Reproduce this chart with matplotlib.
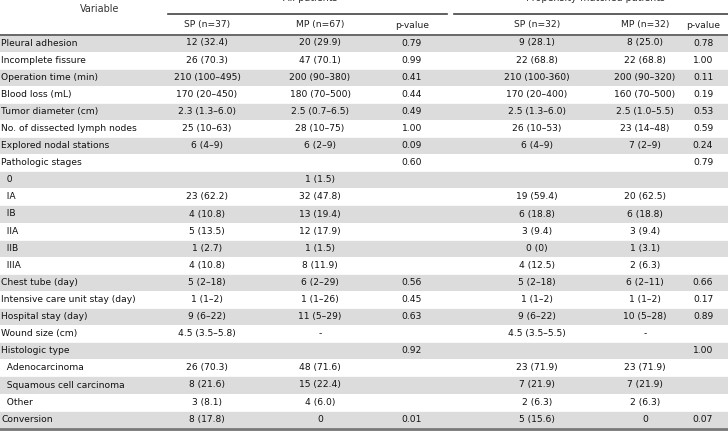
import matplotlib.pyplot as plt
from matplotlib.patches import Rectangle

variables = ['Pleural adhesion', 'Incomplete fissure', 'Operation time (min)', 'Blood loss (mL)',
             'Tumor diameter (cm)', 'No. of dissected lymph nodes', 'Explored nodal stations',
             'Pathologic stages', '  0', '  IA', '  IB', '  IIA', '  IIB', '  IIIA',
             'Chest tube (day)', 'Intensive care unit stay (day)', 'Hospital stay (day)',
             'Wound size (cm)', 'Histologic type', '  Adenocarcinoma', '  Squamous cell carcinoma',
             '  Other', 'Conversion']
sp_all = ['12 (32.4)', '26 (70.3)', '210 (100\u2013495)', '170 (20\u2013450)', '2.3 (1.3\u20136.0)',
          '25 (10\u201363)', '6 (4\u20139)', '', '', '23 (62.2)', '4 (10.8)', '5 (13.5)', '1 (2.7)',
          '4 (10.8)', '5 (2\u201318)', '1 (1\u20132)', '9 (6\u201322)', '4.5 (3.5\u20135.8)', '',
          '26 (70.3)', '8 (21.6)', '3 (8.1)', '8 (17.8)']
mp_all = ['20 (29.9)', '47 (70.1)', '200 (90\u2013380)', '180 (70\u2013500)', '2.5 (0.7\u20136.5)',
          '28 (10\u201375)', '6 (2\u20139)', '', '1 (1.5)', '32 (47.8)', '13 (19.4)', '12 (17.9)',
          '1 (1.5)', '8 (11.9)', '6 (2\u201329)', '1 (1\u201326)', '11 (5\u201329)', '-', '',
          '48 (71.6)', '15 (22.4)', '4 (6.0)', '0']
p_all = ['0.79', '0.99', '0.41', '0.44', '0.49', '1.00', '0.09', '0.60', '', '', '', '', '', '',
         '0.56', '0.45', '0.63', '', '0.92', '', '', '', '0.01']
sp_psm = ['9 (28.1)', '22 (68.8)', '210 (100-360)', '170 (20\u2013400)', '2.5 (1.3\u20136.0)',
          '26 (10\u201353)', '6 (4\u20139)', '', '', '19 (59.4)', '6 (18.8)', '3 (9.4)', '0 (0)',
          '4 (12.5)', '5 (2\u201318)', '1 (1\u20132)', '9 (6\u201322)', '4.5 (3.5\u20135.5)', '',
          '23 (71.9)', '7 (21.9)', '2 (6.3)', '5 (15.6)']
mp_psm = ['8 (25.0)', '22 (68.8)', '200 (90\u2013320)', '160 (70\u2013500)', '2.5 (1.0\u20135.5)',
          '23 (14\u201348)', '7 (2\u20139)', '', '', '20 (62.5)', '6 (18.8)', '3 (9.4)', '1 (3.1)',
          '2 (6.3)', '6 (2\u201311)', '1 (1\u20132)', '10 (5\u201328)', '-', '',
          '23 (71.9)', '7 (21.9)', '2 (6.3)', '0']
p_psm = ['0.78', '1.00', '0.11', '0.19', '0.53', '0.59', '0.24', '0.79', '', '', '', '', '', '',
         '0.66', '0.17', '0.89', '', '1.00', '', '', '', '0.07']
sub_headers = ['SP (n=37)', 'MP (n=67)', 'p-value', 'SP (n=32)', 'MP (n=32)', 'p-value']

plt.rcParams['font.family'] = ['DejaVu Sans']
fig = plt.figure(figsize=(7.28, 4.32), dpi=100)
ax = fig.add_axes([0, 0, 1, 1])
ax.set_xlim(0, 728)
ax.set_ylim(432, 0)
ax.axis('off')

fs = 6.6
col_x = [207, 320, 412, 537, 645, 703]
row0, pitch = 43, 17.1

ax.text(100, 9, 'Variable', ha='center', va='center', fontsize=fs + 0.3, color='#333333')
ax.text(310, -2, 'All patients', ha='center', va='center', fontsize=fs + 0.3, color='#333333')
ax.text(595, -2, 'Propensity-matched patients', ha='center', va='center', fontsize=fs + 0.3, color='#333333')
ax.plot([168, 447], [14, 14], color='#444444', lw=1.2)
ax.plot([454, 728], [14, 14], color='#444444', lw=1.2)
for x, h in zip(col_x, sub_headers):
    ax.text(x, 25, h, ha='center', va='center', fontsize=fs, color='#222222')
ax.plot([0, 728], [34.5, 34.5], color='#555555', lw=1.2)

cols = [sp_all, mp_all, p_all, sp_psm, mp_psm, p_psm]
for i, var in enumerate(variables):
    y = row0 + i * pitch
    if i % 2 == 0:
        ax.add_patch(Rectangle((0, y - pitch / 2), 728, pitch, color='#dcdcdc', lw=0))
    ax.plot([0, 728], [y + pitch / 2, y + pitch / 2], color='#ffffff', lw=0.6)
    ax.text(1, y, var, ha='left', va='center', fontsize=fs, color='#111111')
    for x, col in zip(col_x, cols):
        ax.text(x, y, col[i], ha='center', va='center', fontsize=fs, color='#111111')
ax.plot([0, 728], [row0 + 22 * pitch + pitch / 2 + 1, row0 + 22 * pitch + pitch / 2 + 1], color='#777777', lw=2)

fig.savefig('out.png', dpi=100)
